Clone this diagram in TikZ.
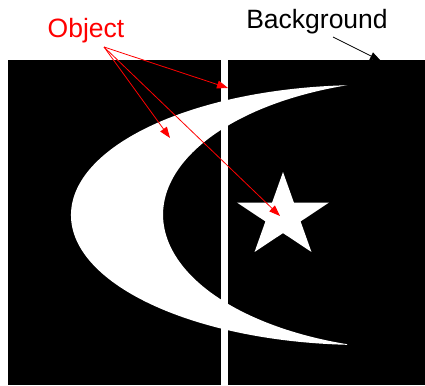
\documentclass[tikz,border=0pt]{standalone}
\usepackage{fontspec}
\setmainfont{Liberation Sans}
\usetikzlibrary{arrows.meta, positioning}
\tikzset{every node/.style={font=\fontsize{26.5}{31}\selectfont, inner sep=0pt}}
\definecolor{labelred}{HTML}{FF0000}

\begin{document}
\begin{tikzpicture}[x=1pt, y=-1pt,
    pointer/.style={draw=labelred, line width=0.8pt, -{Triangle[length=11pt, width=8pt]}},
    bgpointer/.style={draw=black, line width=0.8pt, -{Triangle[length=11pt, width=8pt]}}]
  \useasboundingbox (0,0) rectangle (425,385);
  % background
  \fill[black] (8,60) rectangle (425,385);
  % crescent
  \fill[white] (347.1,344.8)
    arc[start angle=93.3, end angle=266.7, x radius=293, y radius=130]
    arc[start angle=252.2, end angle=107.8, x radius=265, y radius=136] -- cycle;
  % vertical bar
  \fill[white] (221,60) rectangle (228,385);
  % star
  \coordinate (starc) at (283,216.2);
  \fill[white] ([shift={(starc)}]-90:48.4 and 44.2)
    \foreach \a in {-54,18,90,162,234} {
      -- ([shift={(starc)}]\a:18.5 and 16.9) -- ([shift={(starc)}]\a+36:48.4 and 44.2)
    } -- cycle;
  % labels
  \node[text=labelred, anchor=base] (objlabel) at (86,37.5) {Object};
  \node[anchor=base] (bglabel) at (317,28.5) {Background};
  \coordinate (objtail) at (104,47);
  \coordinate (bartop) at (228,88);
  \coordinate (crestarm) at (170,138);
  \coordinate (starpt) at (280,216);
  \coordinate (bgtail) at (333,37);
  \coordinate (bgcorner) at (381,61);
  \draw[pointer] (objtail) -- (bartop);
  \draw[pointer] (objtail) -- (crestarm);
  \draw[pointer] (objtail) -- (starpt);
  \draw[bgpointer] (bgtail) -- (bgcorner);
\end{tikzpicture}
\end{document}
